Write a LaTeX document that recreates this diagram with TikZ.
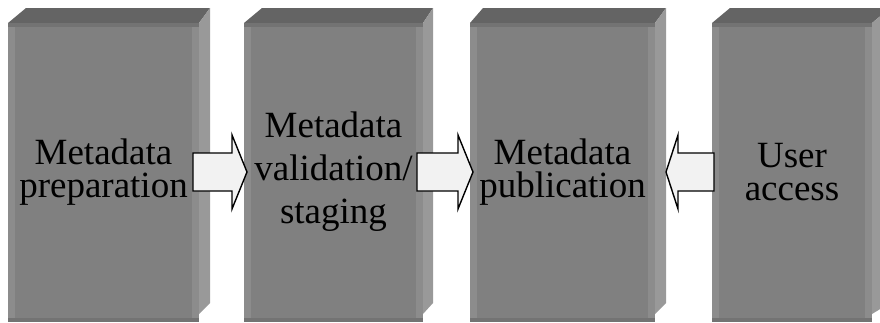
\documentclass[tikz,border=0pt]{standalone}
\usepackage{fontspec}
\setmainfont{Liberation Serif}
\usetikzlibrary{calc}
\usetikzlibrary{math}
\definecolor{boxFront}{HTML}{808080}
\definecolor{boxStrip}{HTML}{8C8C8C}
\definecolor{boxSide}{HTML}{999999}
\definecolor{boxTop}{HTML}{646464}
\definecolor{boxLedge}{HTML}{737373}
\definecolor{arrowFill}{HTML}{F2F2F2}
\tikzset{
  boxtext/.style={align=center, inner sep=0pt},
  blockarrow/.style={draw=black, fill=arrowFill, line width=1.4pt, line join=miter},
}
% tail x, head base x, tip x
\newcommand{\blockarrow}[3]{%
  \draw[blockarrow] (#1,\midY-\bodyH) -- (#2,\midY-\bodyH) -- (#2,\midY-\headH)
    -- (#3,\midY) -- (#2,\midY+\headH) -- (#2,\midY+\bodyH) -- (#1,\midY+\bodyH) -- cycle;}

\begin{document}
\begin{tikzpicture}[x=1pt, y=-1pt]
    \tikzmath {
        \topY = 8;
        \ledgeY = 23;
        \frontY = 27;
        \botY = 318;
        \baseY = 322;
        \sideBot = 303;
        \strip = 7;
        \midY = 172;
        \bodyH = 19;
        \headH = 37;
    }

    \useasboundingbox (0,0) rectangle (880,322);
    \clip (0,0) rectangle (880,322);

    \foreach \fl/\fr/\bl/\br/\lskip/\name/\txt in {
        8/199/26/210/33/prep/{Metadata\\preparation},
        244/423/262/433/43/valid/{Metadata\\validation/\\staging},
        470/655/483/666/33/publ/{Metadata\\publication},
        712/872/730/890/33/user/{User\\access}}
    {
        \fill[boxTop] (\fl,\ledgeY) -- (\bl,\topY) -- (\br,\topY) -- (\fr,\ledgeY) -- cycle;
        \fill[boxSide] (\fr,\ledgeY) -- (\br,\topY) -- (\br,\sideBot) -- (\fr,\botY-4) -- cycle;
        \fill[boxLedge] (\fl,\ledgeY) rectangle (\fr,\frontY);
        \fill[boxFront] (\fl,\frontY) rectangle (\fr,\botY);
        \fill[boxStrip] (\fl,\frontY) rectangle (\fl+\strip,\botY);
        \fill[boxStrip] (\fr-\strip,\frontY) rectangle (\fr,\botY);
        \fill[boxLedge] (\fl,\botY) rectangle (\fr,\baseY);
        \node[boxtext, font=\fontsize{37}{\lskip}\selectfont] (\name) at ({(\fl+\fr)/2},\midY) {\txt};
    }

    \blockarrow{193}{232}{247}
    \blockarrow{417}{458}{473}
    \blockarrow{714}{678}{666}

\end{tikzpicture}
\end{document}
